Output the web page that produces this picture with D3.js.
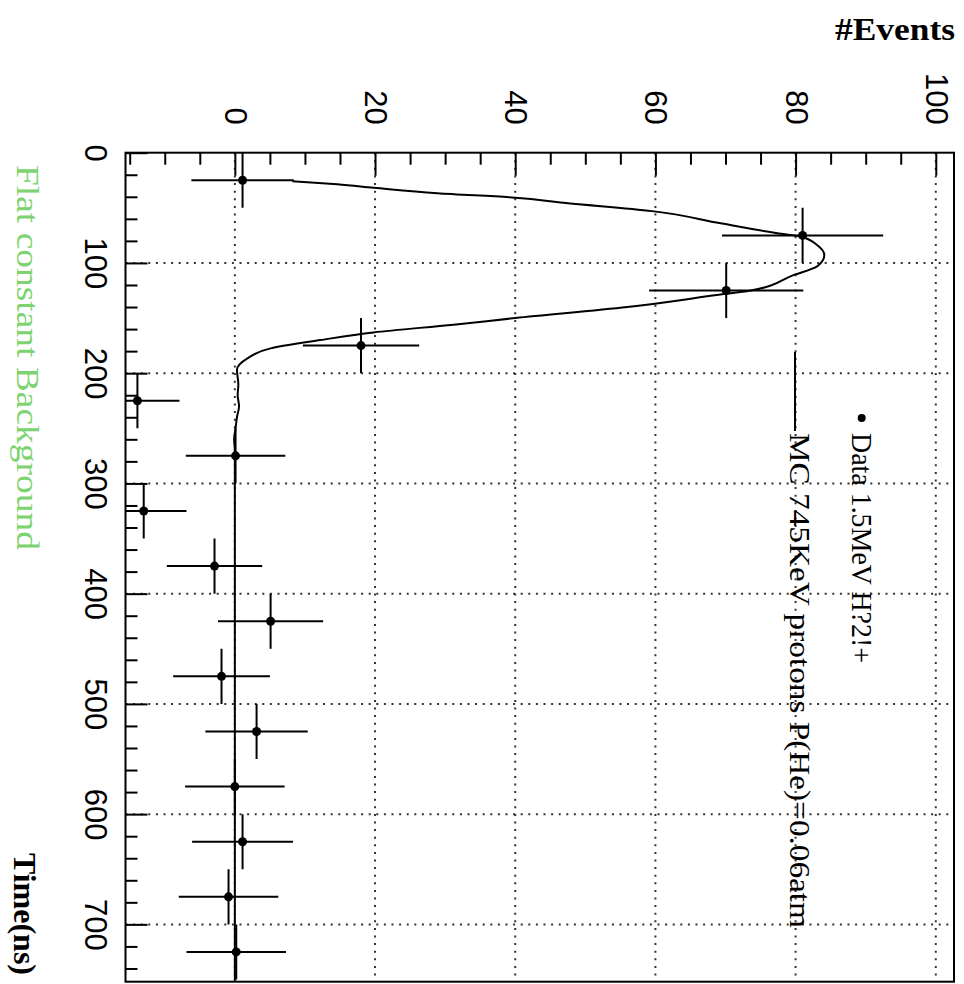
<!DOCTYPE html>
<html>
<head>
<meta charset="utf-8">
<script src="https://cdn.jsdelivr.net/npm/d3@7"></script>
<style>
  body { margin: 0; background: #fff; }
  svg { display: block; }
</style>
</head>
<body>
<svg id="chart"></svg>
<script>
// Data points (time bin centre in ns, events, errors)
const dataTime = [25, 75, 125, 175, 225, 275, 325, 375, 425, 475, 525, 575, 625, 675, 725];
const dataEvents = [1.1, 81, 70.1, 18, -13.9, 0.1, -13, -2.9, 5.1, -1.9, 3.1, 0, 1.1, -0.9, 0.2];
const dataErr = [7.3, 11.5, 11, 8.3, 6, 7.1, 6.1, 6.8, 7.5, 6.9, 7.3, 7.1, 7.2, 7.1, 7.1];
const binHalf = [25, 25, 25, 25, 25, 25, 25, 25, 25, 25, 25, 25, 25, 25, 25];

// MC curve
const mcTime = [26, 28.7, 31.8, 36.8, 40.8, 45.4, 53, 64, 73, 76, 84, 93, 103, 111, 125, 128, 140, 150, 156, 163, 170, 177.5, 186.5, 197, 210, 220, 230, 240, 250, 260, 270, 752];
const mcEvents = [8.2, 14.6, 19.8, 28.9, 40, 46.9, 59.5, 69.3, 77.4, 80.7, 83.1, 84.1, 83.1, 79.7, 73.6, 70, 56, 40, 31.2, 19.8, 12.2, 5.1, 1.8, 0.3, 0.5, 0.4, 0.6, 0.3, 0.1, -0.1, 0, 0];

const eventTicks = [0, 20, 40, 60, 80, 100];
const eventMinor = [-15, -10, -5, 5, 10, 15, 25, 30, 35, 45, 50, 55, 65, 70, 75, 85, 90, 95];
const timeTicks = [0, 100, 200, 300, 400, 500, 600, 700];
const timeMinor = d3.range(20, 752, 20).filter(d => d % 100 !== 0);

const width = 964;
const height = 984;
const pLeft = 125.5, pRight = 954, pTop = 152.7, pBottom = 981.7;

const svg = d3.select('#chart')
  .attr('width', width)
  .attr('height', height);

// events run left to right, time runs downward (the picture is rotated)
const x = d3.scaleLinear().domain([-15.6, 102.6]).range([pLeft, pRight]);
const y = d3.scaleLinear().domain([0, 752]).range([pTop, pBottom]);

svg.append('clipPath').attr('id', 'plot')
  .append('rect')
  .attr('x', pLeft).attr('y', pTop)
  .attr('width', pRight - pLeft).attr('height', pBottom - pTop);

// dotted grid
const grid = svg.append('g')
  .attr('stroke', '#333')
  .attr('stroke-width', 2)
  .attr('stroke-dasharray', '2,5.6');
grid.selectAll('.gx')
  .data(eventTicks)
  .enter()
  .append('line')
  .attr('x1', d => x(d)).attr('x2', d => x(d))
  .attr('y1', pTop).attr('y2', pBottom);
grid.selectAll('.gy')
  .data(timeTicks.slice(1))
  .enter()
  .append('line')
  .attr('x1', pLeft).attr('x2', pRight)
  .attr('y1', d => y(d)).attr('y2', d => y(d));

// axes: ticks inside the frame
const topAxis = svg.append('g')
  .attr('transform', `translate(0,${pTop})`)
  .call(d3.axisTop(x).tickValues(eventTicks).tickSize(-23).tickFormat(d3.format('d')));
svg.append('g')
  .attr('transform', `translate(0,${pTop})`)
  .call(d3.axisTop(x).tickValues(eventMinor).tickSize(-12).tickFormat(''));
const leftAxis = svg.append('g')
  .attr('transform', `translate(${pLeft},0)`)
  .call(d3.axisLeft(y).tickValues(timeTicks).tickSize(-22).tickFormat(d3.format('d')));
svg.append('g')
  .attr('transform', `translate(${pLeft},0)`)
  .call(d3.axisLeft(y).tickValues(timeMinor).tickSize(-12).tickFormat(''));

svg.selectAll('.domain').remove();
svg.selectAll('.tick line').attr('stroke', '#000').attr('stroke-width', 2);

topAxis.selectAll('.tick text')
  .attr('y', null).attr('dy', null)
  .attr('transform', 'translate(0,-28) rotate(90)')
  .attr('text-anchor', 'end')
  .attr('dominant-baseline', 'central')
  .attr('font-family', 'Liberation Sans, Arial, sans-serif')
  .attr('font-size', 31)
  .attr('fill', '#000');
leftAxis.selectAll('.tick text')
  .attr('x', null).attr('dy', null)
  .attr('transform', 'translate(-40.5,0) rotate(90)')
  .attr('text-anchor', 'middle')
  .attr('font-family', 'Liberation Sans, Arial, sans-serif')
  .attr('font-size', 31)
  .attr('fill', '#000');

const plot = svg.append('g').attr('clip-path', 'url(#plot)');

// MC curve
const line = d3.line()
  .x((d, i) => x(mcEvents[i]))
  .y(d => y(d))
  .curve(d3.curveMonotoneY);
plot.append('path')
  .datum(mcTime)
  .attr('d', line)
  .attr('fill', 'none')
  .attr('stroke', '#000')
  .attr('stroke-width', 2);

// data with error bars
const pts = plot.selectAll('.pt')
  .data(dataTime)
  .enter()
  .append('g');
pts.append('line')
  .attr('x1', (d, i) => x(dataEvents[i] - dataErr[i]))
  .attr('x2', (d, i) => x(dataEvents[i] + dataErr[i]))
  .attr('y1', d => y(d)).attr('y2', d => y(d))
  .attr('stroke', '#000').attr('stroke-width', 2);
pts.append('line')
  .attr('x1', (d, i) => x(dataEvents[i]))
  .attr('x2', (d, i) => x(dataEvents[i]))
  .attr('y1', (d, i) => y(d - binHalf[i]))
  .attr('y2', (d, i) => y(d + binHalf[i]))
  .attr('stroke', '#000').attr('stroke-width', 2);
pts.append('circle')
  .attr('cx', (d, i) => x(dataEvents[i]))
  .attr('cy', d => y(d))
  .attr('r', 4.5)
  .attr('fill', '#000');

// frame
svg.append('rect')
  .attr('x', pLeft).attr('y', pTop)
  .attr('width', pRight - pLeft).attr('height', pBottom - pTop)
  .attr('fill', 'none')
  .attr('stroke', '#000')
  .attr('stroke-width', 2);

// legend
svg.append('circle').attr('cx', 861.7).attr('cy', 418).attr('r', 4).attr('fill', '#000');
svg.append('text')
  .attr('transform', 'translate(852,433) rotate(90)')
  .attr('font-family', 'Liberation Serif, Times New Roman, serif')
  .attr('font-size', 30)
  .attr('textLength', 230)
  .attr('lengthAdjust', 'spacingAndGlyphs')
  .text('Data 1.5MeV H?2!+');
svg.append('line')
  .attr('x1', 795).attr('x2', 795)
  .attr('y1', 352).attr('y2', 431)
  .attr('stroke', '#000').attr('stroke-width', 2);
svg.append('text')
  .attr('transform', 'translate(789.5,433) rotate(90)')
  .attr('font-family', 'Liberation Serif, Times New Roman, serif')
  .attr('font-size', 30)
  .attr('textLength', 495)
  .attr('lengthAdjust', 'spacingAndGlyphs')
  .text('MC 745KeV protons P(He)=0.06atm');

// titles
svg.append('text')
  .attr('x', 955).attr('y', 40)
  .attr('text-anchor', 'end')
  .attr('font-family', 'Liberation Serif, Times New Roman, serif')
  .attr('font-weight', 'bold')
  .attr('font-size', 32)
  .attr('textLength', 120)
  .attr('lengthAdjust', 'spacingAndGlyphs')
  .text('#Events');
svg.append('text')
  .attr('transform', 'translate(14,975) rotate(90)')
  .attr('text-anchor', 'end')
  .attr('font-family', 'Liberation Serif, Times New Roman, serif')
  .attr('font-weight', 'bold')
  .attr('font-size', 32)
  .text('Time(ns)');
svg.append('text')
  .attr('transform', 'translate(17,165) rotate(90)')
  .attr('font-family', 'Liberation Serif, Times New Roman, serif')
  .attr('font-size', 31)
  .attr('fill', '#7dd370')
  .attr('textLength', 385)
  .attr('lengthAdjust', 'spacingAndGlyphs')
  .text('Flat constant Background');
</script>
</body>
</html>
